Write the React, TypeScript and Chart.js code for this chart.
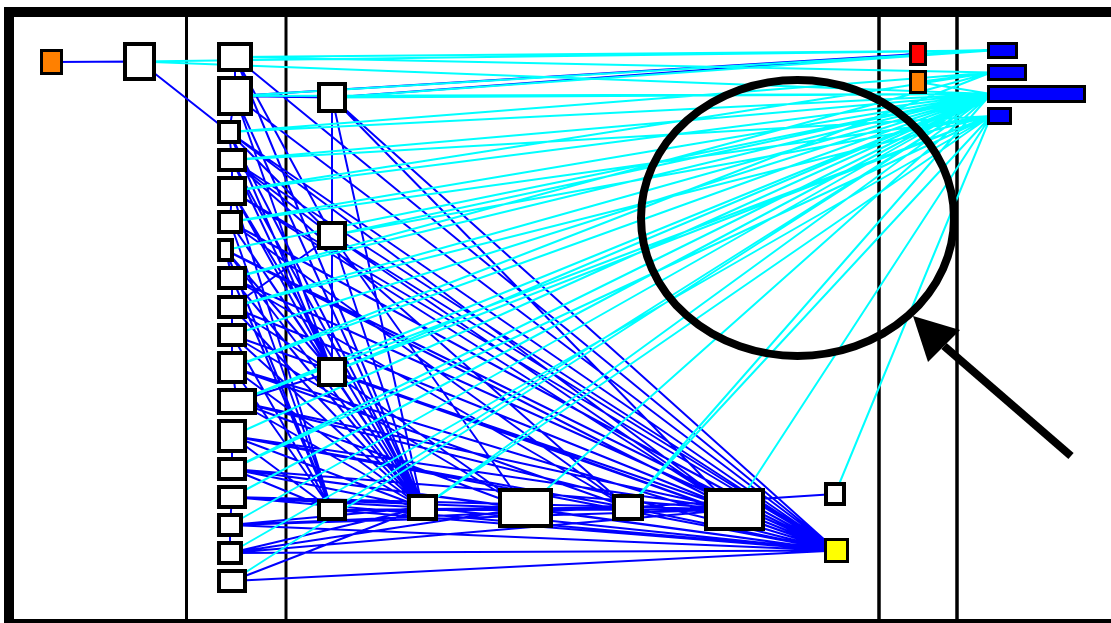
import React, { useEffect, useRef } from "react";
import { Chart, registerables } from "chart.js";

Chart.register(...registerables);

// ---- Diagram data (coordinates in a 0..1111 x 0..623 data space) ----
const nodeIds = [
  "O", "A",
  "L1", "L2", "L3", "L4", "L5", "L6", "L7", "L8", "L9", "L10", "L11", "L12", "L13", "L14", "L15", "L16", "L17", "L18",
  "M1", "M2", "M3", "M4",
  "B1", "B2", "B3", "B4", "S", "Y",
  "R", "O2",
  "Bar1", "Bar2", "Bar3", "Bar4",
];
const nodeLeft = [
  40, 123,
  217, 217, 217, 217, 217, 217, 217, 217, 217, 217, 217, 217, 217, 217, 217, 217, 217, 217,
  317, 317, 317, 317,
  407, 498, 612, 704, 824, 824,
  909, 909,
  987, 987, 987, 987,
];
const nodeTop = [
  49, 42,
  42, 76, 120, 148, 176, 210, 238, 266, 295, 323, 351, 388, 419, 457, 485, 513, 541, 569,
  82, 221, 357, 499,
  494, 488, 494, 488, 482, 538,
  42, 70,
  42, 64, 85, 107,
];
const nodeRight = [
  63, 156,
  253, 253, 241, 247, 247, 243, 234, 247, 247, 247, 247, 257, 247, 247, 247, 243, 243, 247,
  347, 347, 347, 347,
  438, 553, 644, 765, 846, 849,
  927, 927,
  1018, 1027, 1086, 1012,
];
const nodeBottom = [
  75, 81,
  72, 116, 144, 172, 206, 234, 262, 290, 319, 347, 384, 415, 453, 481, 509, 537, 565, 593,
  113, 250, 387, 521,
  521, 528, 521, 531, 506, 563,
  66, 94,
  59, 81, 103, 125,
];
const nodeFill = [
  "#ff8000", "#ffffff",
  "#ffffff", "#ffffff", "#ffffff", "#ffffff", "#ffffff", "#ffffff", "#ffffff", "#ffffff", "#ffffff",
  "#ffffff", "#ffffff", "#ffffff", "#ffffff", "#ffffff", "#ffffff", "#ffffff", "#ffffff", "#ffffff",
  "#ffffff", "#ffffff", "#ffffff", "#ffffff",
  "#ffffff", "#ffffff", "#ffffff", "#ffffff", "#ffffff", "#ffff00",
  "#ff0000", "#ff8000",
  "#0000ff", "#0000ff", "#0000ff", "#0000ff",
];

const blueEdges = [
  "O-A", "A-L3",
  "L1-L2", "L2-L3", "L3-L4", "L4-L5", "L5-L6", "L7-L8", "L8-L9", "L9-L10", "L10-L11", "L11-L12",
  "L13-L14", "L15-L16", "L16-L17",
  "L2-M1", "L2-R", "M1-R", "M1-M2", "M2-M3",
  "L1-B1", "L2-B1", "L3-B1", "L4-B1", "L5-B1", "L6-B1", "L7-B1", "L8-B1", "L9-B1", "L10-B1", "L11-B1",
  "L12-B1", "L13-B1", "L14-B1", "L15-B1", "L16-B1", "L17-B1", "L18-B1", "M1-B1", "M2-B1", "M3-B1",
  "L1-Y", "L2-Y", "L3-Y", "L4-Y", "L5-Y", "L6-Y", "L7-Y", "L8-Y", "L9-Y", "L10-Y", "L11-Y", "L12-Y",
  "L13-Y", "L14-Y", "L15-Y", "L16-Y", "L17-Y", "L18-Y", "M1-Y", "M2-Y", "M3-Y", "M4-Y",
  "B1-Y", "B2-Y", "B3-Y", "B4-Y", "B3-S",
  "L1-M2", "L2-M3", "L3-M2", "L3-M3", "L4-M2", "L4-M3", "L5-M3", "L5-M4", "L6-M3", "L6-M4",
  "L7-M3", "L7-M4", "L8-M4", "L9-M2", "L9-M3", "L10-M4", "L11-M4", "L12-M3", "L13-M4", "L14-M4",
  "L14-B2", "L15-B2", "L16-B3", "L16-B4", "L17-B2", "L13-B4", "L12-B4", "L14-B4", "L15-B4",
  "L17-B4", "M4-B2", "M4-B3", "M4-B4", "L11-B3", "L13-B3",
  "L3-B4", "L5-B4", "L7-B4", "L9-B4", "L4-B3", "L6-B3", "L8-B3", "L10-B2", "L12-B2",
  "M1-B4", "M2-B4", "M3-B4", "M2-B2", "M3-B2",
];

const cyanEdges = [
  "A-Bar1", "A-Bar3", "L1-Bar1", "L1-Bar2", "L2-Bar1", "L2-Bar3", "L3-Bar2", "L3-Bar3",
  "L4-Bar3", "L4-Bar4", "L5-Bar2", "L5-Bar3", "L6-Bar3", "L6-Bar4", "L7-Bar3", "L8-Bar2",
  "L8-Bar3", "L9-Bar3", "L9-Bar4", "L10-Bar3", "L11-Bar2", "L11-Bar3", "L12-Bar3", "L12-Bar4",
  "L13-Bar3", "L14-Bar3", "L14-Bar4", "L15-Bar3", "L16-Bar3", "L17-Bar4", "L18-Bar3",
  "M1-Bar1", "M1-Bar3", "M2-Bar3", "M2-Bar4", "M3-Bar3", "M3-Bar4", "M4-Bar3",
  "B1-Bar3", "B1-Bar4", "B2-Bar3", "B3-Bar3", "B3-Bar4", "B4-Bar4", "S-Bar4",
  "R-Bar1", "O2-Bar2", "O2-Bar3",
];

// frame & dividers
const frameEdge = [9, 12, 1116, 624]; // stroke centre line: left, top, right, bottom
const frameWidth = 10;
const dividerX = [186.5, 286, 879, 957];
const dividerWidth = [3, 3, 3.5, 3.5];
const dividerSpan = [17, 619];

// highlight circle and arrow
const ringCentre = [797.5, 218];
const ringRadius = [156.5, 138];
const ringWidth = 8;
const arrowTail = [1071, 456];
const arrowBase = [944, 346];
const arrowHead = [
  [913, 316],
  [928, 362],
  [960, 330],
];
const arrowWidth = 8;

function anchorOf(id: string) {
  const i = nodeIds.indexOf(id);
  const isBar = id.startsWith("Bar");
  const x = isBar ? nodeLeft[i] + 4 : (nodeLeft[i] + nodeRight[i]) / 2;
  const y = (nodeTop[i] + nodeBottom[i]) / 2;
  return { x, y };
}

function edgePoints(edges: string[]) {
  const pts: { x: number; y: number }[] = [];
  edges.forEach((e) => {
    const [a, b] = e.split("-");
    pts.push(anchorOf(a));
    pts.push(anchorOf(b));
    pts.push({ x: NaN, y: NaN });
  });
  return pts;
}

const diagramPlugin = {
  id: "diagram",
  beforeDatasetsDraw(chart: any) {
    const { ctx, scales } = chart;
    const X = (v: number) => scales.x.getPixelForValue(v);
    const Y = (v: number) => scales.y.getPixelForValue(v);
    ctx.save();
    ctx.strokeStyle = "#000";
    dividerX.forEach((dx, i) => {
      ctx.lineWidth = dividerWidth[i];
      ctx.beginPath();
      ctx.moveTo(X(dx), Y(dividerSpan[0]));
      ctx.lineTo(X(dx), Y(dividerSpan[1]));
      ctx.stroke();
    });
    ctx.restore();
  },
  afterDatasetsDraw(chart: any) {
    const { ctx, scales } = chart;
    const X = (v: number) => scales.x.getPixelForValue(v);
    const Y = (v: number) => scales.y.getPixelForValue(v);
    ctx.save();
    // nodes
    nodeIds.forEach((id, i) => {
      const l = X(nodeLeft[i]);
      const r = X(nodeRight[i]);
      const t = Y(nodeTop[i]);
      const b = Y(nodeBottom[i]);
      const lw = nodeFill[i] === "#ffffff" ? 4 : 3;
      ctx.fillStyle = nodeFill[i];
      ctx.fillRect(l, t, r - l, b - t);
      ctx.lineWidth = lw;
      ctx.strokeStyle = "#000";
      ctx.strokeRect(l + lw / 2, t + lw / 2, r - l - lw, b - t - lw);
    });
    // frame
    ctx.lineWidth = frameWidth;
    ctx.strokeStyle = "#000";
    ctx.strokeRect(
      X(frameEdge[0]),
      Y(frameEdge[1]),
      X(frameEdge[2]) - X(frameEdge[0]),
      Y(frameEdge[3]) - Y(frameEdge[1])
    );
    // ring
    ctx.lineWidth = ringWidth;
    ctx.beginPath();
    ctx.ellipse(
      X(ringCentre[0]),
      Y(ringCentre[1]),
      Math.abs(X(ringCentre[0] + ringRadius[0]) - X(ringCentre[0])),
      Math.abs(Y(ringCentre[1] + ringRadius[1]) - Y(ringCentre[1])),
      0,
      0,
      Math.PI * 2
    );
    ctx.stroke();
    // arrow
    ctx.lineWidth = arrowWidth;
    ctx.lineCap = "butt";
    ctx.beginPath();
    ctx.moveTo(X(arrowTail[0]), Y(arrowTail[1]));
    ctx.lineTo(X(arrowBase[0]), Y(arrowBase[1]));
    ctx.stroke();
    ctx.fillStyle = "#000";
    ctx.beginPath();
    ctx.moveTo(X(arrowHead[0][0]), Y(arrowHead[0][1]));
    ctx.lineTo(X(arrowHead[1][0]), Y(arrowHead[1][1]));
    ctx.lineTo(X(arrowHead[2][0]), Y(arrowHead[2][1]));
    ctx.closePath();
    ctx.fill();
    ctx.restore();
  },
};

export default function App() {
  const canvasRef = useRef<HTMLCanvasElement | null>(null);

  useEffect(() => {
    if (!canvasRef.current) return;
    const chart = new Chart(canvasRef.current, {
      type: "scatter",
      data: {
        datasets: [
          {
            label: "cyan",
            data: edgePoints(cyanEdges),
            showLine: true,
            spanGaps: false,
            borderColor: "#00ffff",
            borderWidth: 2,
            pointRadius: 0,
            pointHoverRadius: 0,
          },
          {
            label: "blue",
            data: edgePoints(blueEdges),
            showLine: true,
            spanGaps: false,
            borderColor: "#0000ff",
            borderWidth: 2,
            pointRadius: 0,
            pointHoverRadius: 0,
          },
        ],
      },
      options: {
        animation: false,
        responsive: false,
        devicePixelRatio: 1,
        layout: { padding: 0, autoPadding: false },
        events: [],
        plugins: {
          legend: { display: false },
          tooltip: { enabled: false },
          title: { display: false },
        },
        scales: {
          x: { type: "linear", min: 0, max: 1111, display: false },
          y: { type: "linear", min: 0, max: 623, reverse: true, display: false },
        },
      },
      plugins: [diagramPlugin],
    } as any);
    return () => chart.destroy();
  }, []);

  return (
    <div style={{ position: "absolute", left: 0, top: 0, width: 1111, height: 623, background: "#fff" }}>
      <canvas ref={canvasRef} width={1111} height={623} style={{ display: "block" }} />
    </div>
  );
}
